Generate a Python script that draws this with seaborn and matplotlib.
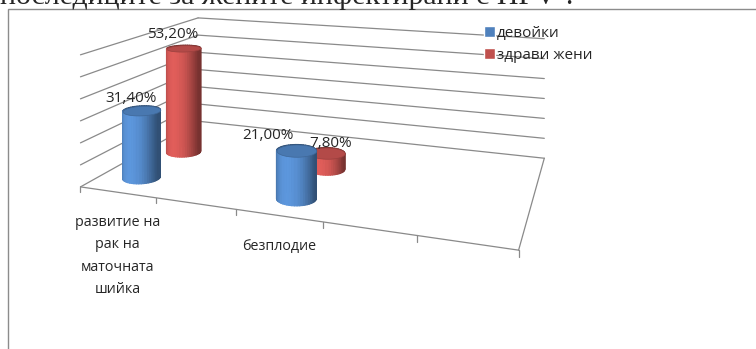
import numpy as np
import matplotlib
matplotlib.use("Agg")
import matplotlib.pyplot as plt
import seaborn as sns
from matplotlib.patches import Patch, Rectangle
from mpl_toolkits.mplot3d.art3d import Poly3DCollection

# ---- data ----
categories = ["развитие на\nрак на\nматочната\nшийка", "", "безплодие", "", ""]
series_names = ["девойки", "здрави жени"]
devoyki = [31.4, np.nan, 21.0, np.nan, np.nan]
zdravi_zheni = [53.2, np.nan, 7.8, np.nan, np.nan]
value_ticks = [0, 10, 20, 30, 40, 50, 60]
title_text = "последиците за жените инфектирани с HPV ?"

sns.set_theme(style="white")
plt.rcParams["font.family"] = ["Open Sans", "DejaVu Sans"]
colors = sns.color_palette(["#4F81BD", "#C0504D"])

W, H = 756, 349
fig = plt.figure(figsize=(W / 100, H / 100), dpi=100)
ax = fig.add_axes([0, 0, H / W, 1], projection="3d", computed_zorder=False)
ax.set_axis_off()

n_cat = len(categories)
floor_depth = 2.8          # depth of the floor in series rows
row_pos = [0.5, 1.5]       # depth of each series row

# ---- camera, in physical units (one value unit = 1) ----
unit = np.array([38.80, 41.49, 1.0])    # physical length of one category / row / value unit
yaw = 0.35695                           # horizontal turn of the line of sight (rad)
eye = np.array([5.925 * unit[0], -7.992 * unit[1], 137.0])
focal_px = 860.8                        # focal length in pixels
principal = (299.6, -114.7)             # principal point, pixels from the top-left corner
look_dist = 420.0

view_dir = np.array([-np.sin(yaw), np.cos(yaw), 0.0])
center = (eye + look_dist * view_dir) / unit
hx = max(center[0], n_cat - center[0])
hy = max(center[1], floor_depth - center[1])
zt = 2 * center[2]
xlim3 = (center[0] - hx, center[0] + hx)
ylim3 = (center[1] - hy, center[1] + hy)
zlim3 = (0, zt)
box_phys = np.array([2 * hx * unit[0], 2 * hy * unit[1], zt * unit[2]])


def set_view(focal):
    ax.set_xlim(*xlim3)
    ax.set_ylim(*ylim3)
    ax.set_zlim(*zlim3)
    ax.set_box_aspect(tuple(box_phys))
    ax.view_init(elev=0, azim=np.rad2deg(yaw) - 90)
    ax.set_proj_type("persp", focal_length=focal)


# mplot3d keeps the eye at 10 * focal_length (normalised box units) from the box centre
set_view(1.0)
k_norm = np.linalg.norm(ax._box_aspect) / np.linalg.norm(box_phys)
focal = look_dist * k_norm / 10.0
set_view(focal)

# size and place the (square) 3D axes so the projection lands at focal_px / principal
d0 = ax.transData.transform([[0.0, 0.0]])[0]
d1 = ax.transData.transform([[0.01, 0.01]])[0]
s0 = (d1 - d0) / 0.01
g = (focal_px / focal) / s0[0]
x0 = principal[0] - g * d0[0]
y0 = (H - principal[1]) - g * d0[1]
ax.set_position([x0 / W, y0 / H, g * H / W, g * H / H])


def project(pts):
    M = ax.get_proj()
    P = np.c_[pts, np.ones(len(pts))] @ M.T
    uv = P[:, :2] / P[:, 3:4]
    return ax.transData.transform(uv)


# ---- walls, floor and category ticks ----
grid_kw = dict(color="#8a8a8a", lw=0.9, zorder=1)
for z in value_ticks:
    ax.plot([0, 0], [0, floor_depth], [z, z], **grid_kw)
    ax.plot([0, n_cat], [floor_depth, floor_depth], [z, z], **grid_kw)
ax.plot([0, n_cat], [0, 0], [0, 0], **grid_kw)
ax.plot([n_cat, n_cat], [0, floor_depth], [0, 0], **grid_kw)
for i in range(n_cat + 1):
    ax.plot([i, i], [0, 0], [0, -2.5], **grid_kw)

# ---- cylinders ----
radius = 8.7
rx, ry = radius / unit[0], radius / unit[1]
theta = np.linspace(0, 2 * np.pi, 49)
cam_az = yaw - np.pi / 2


def shade(rgb, k):
    return tuple(np.clip(np.array(rgb) * k, 0, 1))


def side_tone(phi):
    return 0.62 + 0.55 * max(0.0, np.cos(phi + 0.45)) ** 1.3


order = 10
series = [(devoyki, colors[0]), (zdravi_zheni, colors[1])]
tops = []
for s_idx in reversed(range(len(series))):
    vals, col = series[s_idx]
    yc = row_pos[s_idx]
    for c_idx, v in enumerate(vals):
        if np.isnan(v):
            continue
        xc = c_idx + 0.5
        xs = xc + rx * np.cos(theta)
        ys = yc + ry * np.sin(theta)
        quads, fcs = [], []
        for j in range(len(theta) - 1):
            quads.append([(xs[j], ys[j], 0), (xs[j + 1], ys[j + 1], 0),
                          (xs[j + 1], ys[j + 1], v), (xs[j], ys[j], v)])
            tm = 0.5 * (theta[j] + theta[j + 1])
            fcs.append(shade(col, side_tone(np.angle(np.exp(1j * (tm - cam_az))))))
        side = Poly3DCollection(quads, facecolors=fcs, edgecolors=fcs, linewidths=0.8)
        side.set_zorder(order); order += 1
        ax.add_collection3d(side)
        top = Poly3DCollection([list(zip(xs, ys, np.full_like(xs, v)))],
                               facecolors=[shade(col, 0.93)], edgecolors=[shade(col, 0.8)],
                               linewidths=0.5)
        top.set_zorder(order); order += 1
        ax.add_collection3d(top)
        tops.append((xc, yc, v, s_idx, c_idx))

set_view(focal)

# ---- value labels ----
label_shift = {(0, 0): (-11, 12), (1, 0): (-11, 14), (0, 2): (-28, 15), (1, 2): (4, 10)}
for xc, yc, v, s_idx, c_idx in tops:
    px_, py_ = project(np.array([[xc, yc, v]]))[0]
    dx, dy = label_shift[(s_idx, c_idx)]
    ax.annotate(("%.2f%%" % v).replace(".", ","), xy=(px_, py_), xycoords="figure pixels",
                xytext=(dx, dy), textcoords="offset pixels", ha="center", va="center",
                fontsize=11, color="#262626", zorder=100)

# ---- category labels ----
for c_idx, name in enumerate(categories):
    if not name:
        continue
    px_, py_ = project(np.array([[c_idx + 0.5, 0, 0]]))[0]
    ax.annotate(name, xy=(px_, py_), xycoords="figure pixels", xytext=(0, -23),
                textcoords="offset pixels", ha="center", va="top", multialignment="center",
                linespacing=1.65, fontsize=10.3, color="#262626")

fig.legend(handles=[Patch(fc=colors[0]), Patch(fc=colors[1])], labels=series_names,
           loc="upper left", bbox_to_anchor=(484 / W, 1 - 26 / H), frameon=False, fontsize=11,
           handlelength=0.7, handleheight=0.7, handletextpad=0.15, labelspacing=0.45,
           borderaxespad=0, borderpad=0)

# chart frame and the line of body text above it
fig.add_artist(Rectangle((8 / W, -0.1), 1.0, (H - 9.5) / H + 0.1, transform=fig.transFigure,
                         fill=False, ec="#8c8c8c", lw=1.0))
fig.text(0, 1 - 4.0 / H, title_text, fontfamily="Liberation Serif", fontsize=21.5,
         va="baseline", ha="left")
fig.savefig("out.png", dpi=100)
